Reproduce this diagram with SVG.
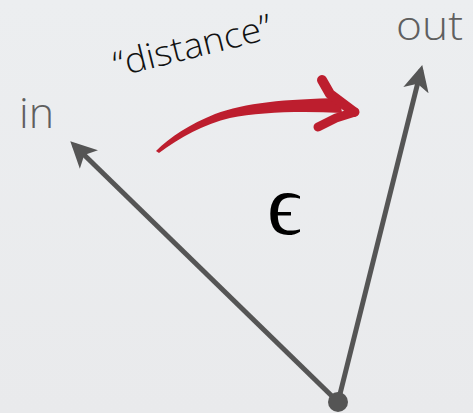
<svg xmlns="http://www.w3.org/2000/svg" width="473" height="413" viewBox="0 0 473 413">
<defs>
<linearGradient id="bg" x1="0" y1="0" x2="0" y2="1">
<stop offset="0" stop-color="#eceef0"/>
<stop offset="1" stop-color="#e9eaec"/>
</linearGradient>
<marker id="ah" viewBox="0 0 10 10" refX="8" refY="5" markerWidth="5.2" markerHeight="5.2" orient="auto" markerUnits="strokeWidth">
<path d="M0,0 L10,5 L0,10 L2.5,5 Z" fill="#555555"/>
</marker>
<style>
.lbl{font-family:"Open Sans","Lato",sans-serif;font-weight:300;fill:#5f5f5f}
.vec{stroke:#555555;stroke-width:5;fill:none;stroke-linecap:butt}
.brush{fill:none;stroke:#bd1e2e;stroke-linecap:round;stroke-linejoin:round}
</style>
</defs>
<rect width="473" height="413" fill="url(#bg)"/>
<g id="connectors">
<line class="vec" x1="338" y1="402" x2="74" y2="145" marker-end="url(#ah)"/>
<line class="vec" x1="338" y1="402" x2="421" y2="70" marker-end="url(#ah)"/>
</g>
<g id="origin"><circle cx="338" cy="402" r="10" fill="#555555"/></g>
<g id="in"><text class="lbl" x="19" y="128" font-size="43">in</text></g>
<g id="out"><text class="lbl" x="396" y="40" font-size="40" textLength="67" lengthAdjust="spacingAndGlyphs">out</text></g>
<g id="distance"><text x="117" y="77" font-family="Open Sans, Lato, sans-serif" font-weight="300" font-size="35" fill="#111111" textLength="162" lengthAdjust="spacingAndGlyphs" transform="rotate(-14 117 77)">“distance”</text></g>
<g id="epsilon"><text x="267" y="234" font-family="Liberation Serif, serif" font-size="86" fill="#000000">ϵ</text></g>
<g id="red-arrow">
<path d="M156,151 C170,137 190,124 215,114 C245,103 285,99 340,98 L342,113 C300,111 260,112 230,118 C205,124 180,137 159,153 Z" fill="#bd1e2e"/>
<path class="brush" d="M322,80 L330,94 L354,112" stroke-width="10"/>
<path class="brush" d="M318,127 L336,118 L355,112" stroke-width="9"/>
</g>
</svg>
